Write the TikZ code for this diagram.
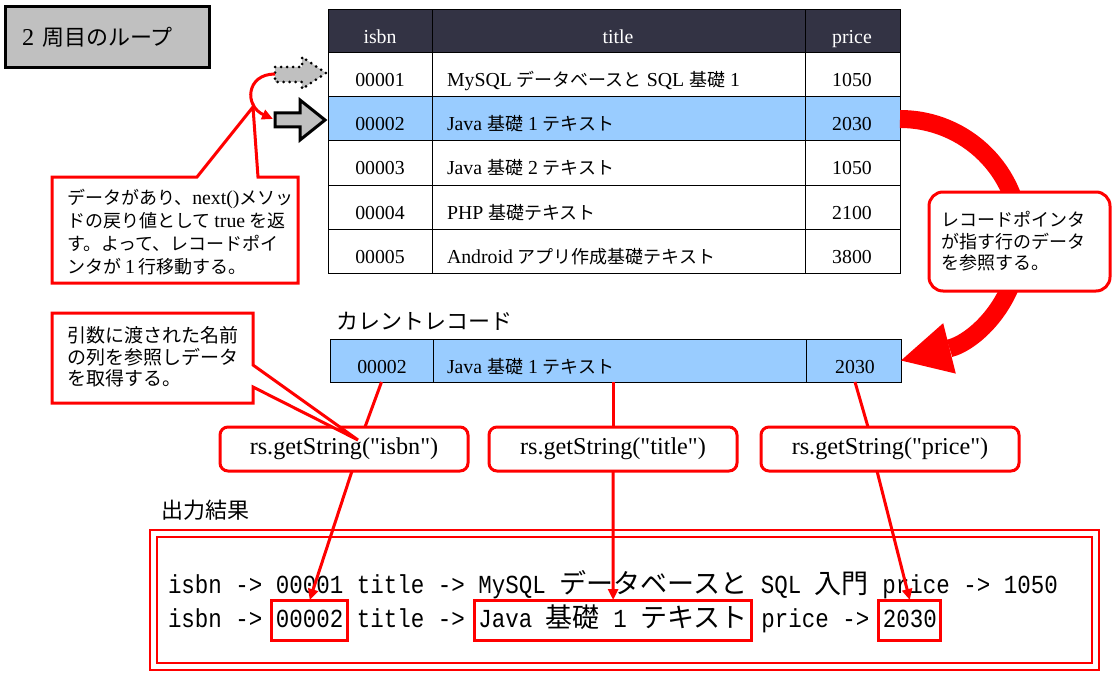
\documentclass[tikz,border=0pt]{standalone}
\usepackage{fontspec}
\setmainfont{Liberation Serif}[Scale=1.1]
\newfontfamily\plainserif[Ligatures=TeXOff,Scale=1.1]{Liberation Serif}
\newfontfamily\jp{Noto Sans CJK JP}
\newfontfamily\outmono[FakeStretch=0.865]{Liberation Mono}
\newfontfamily\outjp[Scale=1.04]{Noto Sans CJK JP}
\usetikzlibrary{arrows.meta,positioning,calc}
\definecolor{hdrdark}{HTML}{333344}
\definecolor{rowblue}{HTML}{99CCFF}
\definecolor{ptrgray}{HTML}{C0C0C0}
\newcommand{\setfs}[2]{\fontsize{#1}{#2}\selectfont}

\begin{document}
\begin{tikzpicture}[
    x=1pt,
    y=-1pt,
    every node/.style={inner sep=0pt, outer sep=0pt},
    celltext/.style={anchor=base, font=\setfs{18}{20}},
    hdrtext/.style={celltext, text=white},
    gridline/.style={draw=black, line width=1pt},
    curcell/.style={draw=black, line width=1pt, fill=rowblue, minimum height=43pt},
    redline/.style={draw=red, line width=3pt},
    redtip/.style={redline, -{Triangle[length=11pt,width=10pt]}},
    balloon/.style={draw=red, line width=3pt, fill=white, line join=miter},
    getbox/.style={draw=red, line width=3pt, fill=white, rounded corners=8pt, minimum height=44pt, font=\plainserif\setfs{22}{26}},
    note/.style={anchor=west, align=left, font=\jp\setfs{18}{23}},
    ptrarrow/.style={fill=ptrgray, draw=black, line width=3pt, line join=miter},
    outframe/.style={draw=red, line width=2.5pt, double=white, double distance=4.5pt},
    outtxt/.style={font=\outmono\setfs{26}{30}, inner ysep=7pt, text height=20pt, text depth=6pt},
    hlbox/.style={outtxt, draw=red, line width=3pt, inner xsep=4pt}
]
    \useasboundingbox (0,0) rectangle (1116,674);

    \node[draw=black, line width=3pt, fill=ptrgray, anchor=west, minimum height=61pt,
          text width=170pt, inner xsep=17pt, align=left, font=\setfs{22}{24}] (looptitle) at (5,37.5) {2 {\jp 周目のループ}};

    % result set table
    \fill[hdrdark] (328,10) rectangle (900,53);
    \fill[rowblue] (328,97) rectangle (900,141);
    \foreach \y in {53,97,141,185,229} \draw[gridline] (328,\y) -- (900,\y);
    \foreach \x in {432,805} \draw[gridline] (\x,10) -- (\x,273);
    \draw[gridline] (328,10) rectangle (900,273);

    \node[hdrtext] (hisbn) at (380,44) {isbn};
    \node[hdrtext] (htitle) at (618,44) {title};
    \node[hdrtext] (hprice) at (852,44) {price};

    \foreach \r/\id/\ttl/\pr in {
        1/00001/{MySQL {\jp データベースと} SQL {\jp 基礎} 1}/1050,
        2/00002/{Java {\jp 基礎} 1 {\jp テキスト}}/2030,
        3/00003/{Java {\jp 基礎} 2 {\jp テキスト}}/1050,
        4/00004/{PHP {\jp 基礎テキスト}}/2100,
        5/00005/{Android {\jp アプリ作成基礎テキスト}}/3800
    }{
        \node[celltext] (isbn\r) at (380,{87+44*(\r-1)}) {\id};
        \node[celltext, anchor=base west] (title\r) at (447,{87+44*(\r-1)}) {\ttl};
        \node[celltext] (price\r) at (852,{87+44*(\r-1)}) {\pr};
    }

    % record pointer
    \coordinate (oldptr) at (275,74);
    \coordinate (newptr) at (273,119);
    \coordinate (selrow) at (900,119);
    \draw[ptrarrow, dash pattern=on 0pt off 6pt, line cap=round] (275,67) -- (302,67) -- (302,57) -- (326,73) -- (302,89) -- (302,82) -- (275,82) -- cycle;
    \draw[ptrarrow] (275,113) -- (300,113) -- (300,100) -- (325,120) -- (300,140) -- (300,127) -- (275,127) -- cycle;
    \draw[redtip] (oldptr) .. controls (246,74) and (244,106) .. (newptr);

    \draw[balloon] (52,177) -- (197,177) -- (253,107) -- (258,177) -- (298,177) -- (298,283) -- (52,283) -- cycle;
    \node[note] (notenext) at (67,232) {データがあり、{\rmfamily next()}メソッ\\ドの戻り値として {\rmfamily true} を返\\す。よって、レコードポイ\\ンタが {\rmfamily 1} 行移動する。};

    % current record
    \node[anchor=west, font=\jp\setfs{22}{24}] (curlabel) at (336,321) {カレントレコード};
    \node[curcell, minimum width=103pt] (curisbn) at (381.5,360.5) {};
    \node[curcell, minimum width=373pt] (curtitle) at (619.5,360.5) {};
    \node[curcell, minimum width=95pt] (curprice) at (853.5,360.5) {};
    \node[celltext] (curisbntxt) at (382,373) {00002};
    \node[celltext, anchor=base west] (curtitletxt) at (447,373) {Java {\jp 基礎} 1 {\jp テキスト}};
    \node[celltext] (curpricetxt) at (855,373) {2030};

    \draw[draw=red, line width=18pt, -{Triangle[length=50pt,width=52pt,line width=0pt]}] (selrow) .. controls (966,119) and (1020,172) .. (1020,238) .. controls (1020,300) and (975,342) .. (curprice.east);
    \node[balloon, rounded corners=14pt, minimum height=99pt, text width=157pt, inner xsep=12pt, align=left,
          font=\jp\setfs{18}{21.5}] (noteref) at (1019.5,241.5) {レコードポインタ\\が指す行のデータ\\を参照する。};

    % getString calls
    \node[getbox, minimum width=248pt] (gsisbn) at (344,449) {rs.getString("isbn")};
    \node[getbox, minimum width=248pt] (gstitle) at (613,449) {rs.getString("title")};
    \node[getbox, minimum width=258pt] (gsprice) at (890,449) {rs.getString("price")};
    \draw[redline] (curisbn.south) -- ($(gsisbn.north)+(21,0)$);
    \draw[redline] (gstitle.north |- curtitle.south) -- (gstitle.north);
    \draw[redline] ($(curprice.south)+(1.5,0)$) -- ($(gsprice.north)+(-22,0)$);

    \draw[balloon] (52,313) -- (253,313) -- (253,365) -- (358,440) -- (253,387) -- (253,403) -- (52,403) -- cycle;
    \node[note, font=\jp\setfs{19}{21.5}] (notegs) at (67,357) {引数に渡された名前\\の列を参照しデータ\\を取得する。};

    % output
    \node[anchor=west, font=\jp\setfs{22}{24}] (outlabel) at (161,510) {出力結果};
    \node[outframe, minimum width=942pt, minimum height=133pt] (outbox) at (624.5,600) {};
    \node[outtxt, anchor=west] (outline1) at (168,586) {isbn -> 00001 title -> MySQL {\outjp データベースと} SQL {\outjp 入門} price -> 1050};
    \node[outtxt, anchor=west] (l2isbn) at (168,620) {isbn ->};
    \node[hlbox, right=9.5pt of l2isbn] (outisbn) {00002};
    \node[outtxt, right=9.5pt of outisbn] (l2title) {title ->};
    \node[hlbox, right=9.5pt of l2title] (outtitle) {Java {\outjp 基礎} 1 {\outjp テキスト}};
    \node[outtxt, right=9.5pt of outtitle] (l2price) {price ->};
    \node[hlbox, right=9.5pt of l2price] (outprice) {2030};

    \draw[redtip] ($(gsisbn.south)+(8,0)$) -- (outisbn.north);
    \draw[redtip] (gstitle.south) -- (outtitle.north);
    \draw[redtip] ($(gsprice.south)+(-13,0)$) -- (outprice.north);

\end{tikzpicture}
\end{document}
